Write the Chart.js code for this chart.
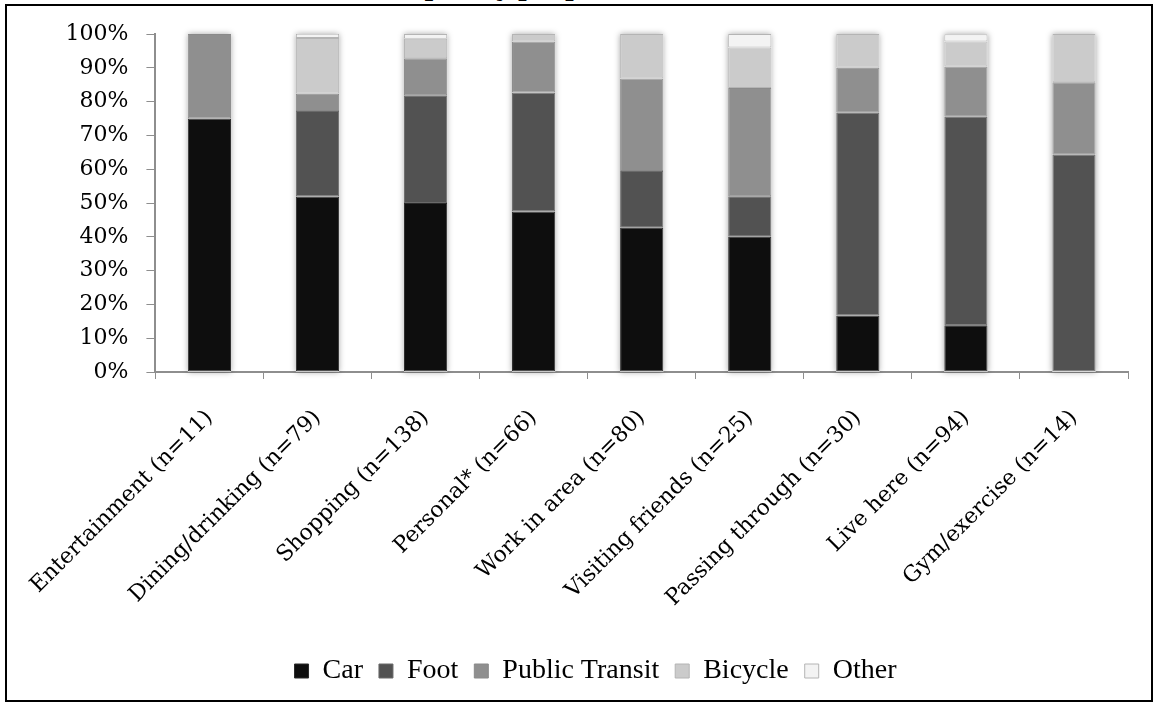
<!DOCTYPE html>
<html>
<head>
<meta charset="utf-8">
<title>Mode split by purpose of visit</title>
<script src="https://cdn.jsdelivr.net/npm/chart.js@4/dist/chart.umd.min.js"></script>
<style>
  html, body { margin: 0; padding: 0; background: #fff; width: 1158px; height: 705px; overflow: hidden; }
  #wrap { position: absolute; left: 0; top: 0; width: 1158px; height: 705px; }
  #frame { position: absolute; left: 5px; top: 4px; width: 1148px; height: 698px; box-sizing: border-box;
           border: 2px solid #000; pointer-events: none; }
  #title { position: absolute; left: 0; top: -24px; width: 845px; text-align: right; white-space: nowrap;
           font: bold 24px/24px "DejaVu Serif", serif; color: #000; }
</style>
</head>
<body>
<div id="title">Mode split by purpose of visit (n=537)</div>
<div id="wrap"><canvas id="chart" width="1158" height="705"></canvas></div>
<div id="frame"></div>
<script>
// Trip purposes (with sample sizes) along the x axis
const categories = [
  'Entertainment (n=11)', 'Dining/drinking (n=79)', 'Shopping (n=138)', 'Personal* (n=66)',
  'Work in area (n=80)', 'Visiting friends (n=25)', 'Passing through (n=30)', 'Live here (n=94)',
  'Gym/exercise (n=14)'
];

// Share of respondents by travel mode, in percent
const car     = [75.0, 51.9, 50.0, 47.5, 42.7, 40.0, 16.7, 13.8, 0];
const foot    = [0,    25.3, 31.9, 35.2, 16.8, 12.0, 60.0, 61.7, 64.3];
const transit = [25.0,  5.1, 10.9, 15.1, 27.3, 32.0, 13.3, 14.9, 21.4];
const bicycle = [0,    16.5,  5.8,  2.2, 13.2, 12.0, 10.0,  7.4, 14.3];
const other   = [0,     1.3,  1.4,  0,    0,    4.0,  0,    2.1,  0];

const seriesNames = ['Car', 'Foot', 'Public Transit', 'Bicycle', 'Other'];
const yTicks = [0, 10, 20, 30, 40, 50, 60, 70, 80, 90, 100];

const fills   = ['#0e0e0e', '#525252', '#8f8f8f', '#cbcbcb', '#f3f3f3'];
const strokes = ['#2a2a2a', '#6a6a6a', '#8a8a8a', '#b4b4b4', '#b4b4b4'];

const series = [car, foot, transit, bicycle, other];
const datasets = series.map((values, i) => ({
  label: seriesNames[i],
  data: values,
  backgroundColor: fills[i],
  borderColor: strokes[i],
  borderWidth: 1,
  borderSkipped: false,
  barPercentage: 0.4,
  categoryPercentage: 1.0
}));

// Soft shadow behind each stacked column
const columnShadow = {
  id: 'columnShadow',
  beforeDatasetsDraw(chart) {
    const ctx = chart.ctx;
    const y = chart.scales.y;
    const base = chart.getDatasetMeta(0);
    ctx.save();
    ctx.shadowColor = 'rgba(0,0,0,0.35)';
    ctx.shadowBlur = 6;
    ctx.fillStyle = '#ffffff';
    base.data.forEach((bar, i) => {
      const total = series.reduce((s, arr) => s + (arr[i] || 0), 0);
      const top = y.getPixelForValue(Math.min(total, 100));
      const bottom = y.getPixelForValue(0);
      ctx.fillRect(bar.x - bar.width / 2, top, bar.width, bottom - top);
    });
    ctx.restore();
  }
};

const axisGray = '#8e8e8e';

new Chart(document.getElementById('chart'), {
  type: 'bar',
  data: { labels: categories, datasets },
  plugins: [columnShadow],
  options: {
    responsive: false,
    animation: false,
    devicePixelRatio: 1,
    layout: { padding: { left: 63, right: 30, top: 34, bottom: 10 } },
    plugins: {
      tooltip: { enabled: false },
      title: { display: false },
      legend: {
        position: 'bottom',
        labels: {
          color: '#000',
          font: { family: '"Liberation Serif", serif', size: 28 },
          boxWidth: 14,
          boxHeight: 14,
          padding: 16
        }
      }
    },
    scales: {
      x: {
        stacked: true,
        offset: true,
        grid: { display: true, drawOnChartArea: false, drawTicks: true, tickLength: 7,
                color: axisGray, lineWidth: 1, offset: true },
        border: { display: true, color: axisGray, width: 2 },
        ticks: {
          autoSkip: false, minRotation: 45, maxRotation: 45, padding: 26,
          color: '#000', font: { family: '"DejaVu Serif", serif', size: 22 }
        },
        afterFit(scale) { scale.height = 269; }
      },
      y: {
        stacked: true,
        min: 0, max: 100,
        afterBuildTicks(scale) { scale.ticks = yTicks.map(v => ({ value: v })); },
        grid: { display: true, drawOnChartArea: false, drawTicks: true, tickLength: 9,
                color: axisGray, lineWidth: 1 },
        border: { display: true, color: axisGray, width: 2 },
        ticks: {
          padding: 18, color: '#000',
          font: { family: '"DejaVu Serif", serif', size: 22 },
          callback: v => v + '%'
        },
        afterFit(scale) { scale.width = 90; }
      }
    }
  }
});
</script>
</body>
</html>
